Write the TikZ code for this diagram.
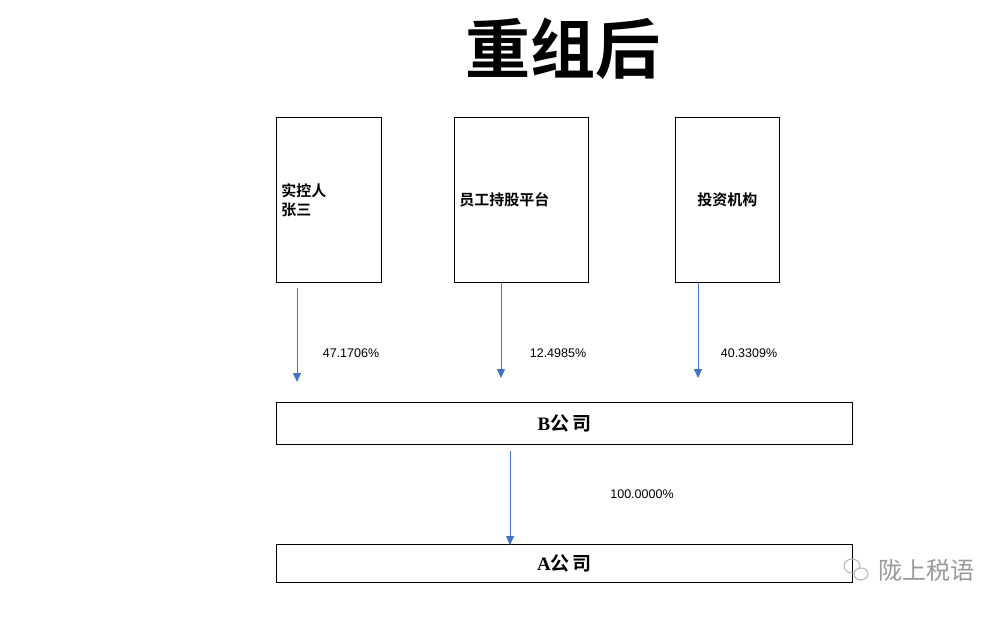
\documentclass[tikz,border=0pt]{standalone}
\usepackage{fontspec}
\usepackage{tikz}
\usetikzlibrary{arrows.meta}
\setmainfont{Liberation Sans}
\newfontfamily\serif{Liberation Serif}
\newfontfamily\cjk{Noto Sans CJK SC}[BoldFont={Noto Sans CJK SC Bold}]
\definecolor{arrblue}{HTML}{4472C4}

\begin{document}
\begin{tikzpicture}[x=1pt,y=-1pt,
  box/.style={draw, line width=0.8pt, inner sep=5pt, font=\cjk\bfseries\fontsize{15}{19}\selectfont},
  arr/.style={arrblue, line width=1pt, -{Triangle[length=9pt,width=8pt]}},
  pct/.style={font=\fontsize{12.5}{14}\selectfont}]
% 重组后 股权结构
\useasboundingbox (0,0) rectangle (1008,616);
\node (title) at (563,49) {\cjk\bfseries\fontsize{65}{66}\selectfont 重组后};
\node[box, anchor=north west, minimum width=105, minimum height=165, text width=95, align=left] (sk) at (276,117) {实控人\\张三};
\node[box, anchor=north west, minimum width=134, minimum height=165, text width=124, align=left] (ep) at (454,117) {员工持股平台};
\node[box, anchor=north west, minimum width=104, minimum height=165, text width=94, align=center] (inv) at (675,117) {投资机构};
\node[box, anchor=north west, minimum width=576, minimum height=42, font=\fontsize{19}{22}\selectfont] (bc) at (276,402) {{\serif\bfseries B}{\cjk\bfseries 公\hspace{3pt}司}};
\node[box, anchor=north west, minimum width=576, minimum height=38, font=\fontsize{19}{22}\selectfont] (ac) at (276,544) {{\serif\bfseries A}{\cjk\bfseries 公\hspace{3pt}司}};
\coordinate (t1) at (297,382);
\coordinate (t2) at (501,378);
\coordinate (t3) at (698,378);
\coordinate (t4) at (510,545);
\draw[arr] ([yshift=-5]sk.south -| t1) -- (t1);
\draw[arr] (ep.south -| t2) -- (t2);
\draw[arr] (inv.south -| t3) -- (t3);
\draw[arr] ([yshift=-6]bc.south -| t4) -- (t4);
\node[pct] (p1) at (351,353) {47.1706\%};
\node[pct] (p2) at (558,353) {12.4985\%};
\node[pct] (p3) at (749,353) {40.3309\%};
\node[pct] (p4) at (642,494) {100.0000\%};
% 水印
\draw[gray!60, line width=1pt] (852,566) ellipse (8 and 7);
\draw[gray!60, line width=1pt, fill=white] (861,574) ellipse (7 and 6);
\node[text=gray!80, font=\cjk\fontsize{24}{26}\selectfont] (wm) at (926,570) {陇上税语};
\end{tikzpicture}
\end{document}
